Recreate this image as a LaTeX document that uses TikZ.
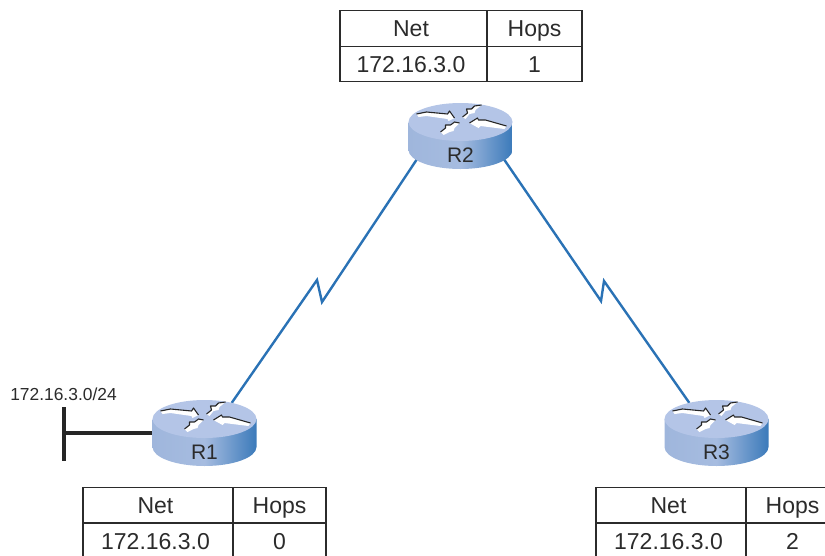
\documentclass[tikz,border=0pt]{standalone}
\usepackage{fontspec}
\setmainfont{Liberation Sans}
\definecolor{inkc}{HTML}{2B2B2B}
\definecolor{linkc}{HTML}{2A72B5}
\definecolor{topc}{HTML}{B4C5E7}
\definecolor{bodyl}{HTML}{9FB6DC}
\definecolor{bodym}{HTML}{A6BCE0}
\definecolor{bodyr}{HTML}{3B7ABA}
\tikzset{
  cell/.style={draw=inkc,line width=1.4pt,inner sep=0pt,text=inkc,font=\fontsize{23}{26}\selectfont,minimum height=35.5pt,text height=16.5pt,text depth=0pt},
  netcell/.style={cell,execute at begin node={\kern-5pt}},
  hopcell/.style={cell},
  routerbox/.style={inner sep=0pt,minimum width=96pt,minimum height=64pt},
  routertext/.style={text=inkc,inner sep=0pt,font=\fontsize{21}{24}\selectfont},
  link/.style={draw=linkc,line width=2.4pt,line join=miter,shorten >=-5pt,shorten <=-10pt},
  stub/.style={draw=black!85,line width=3.2pt},
  arrowfill/.style={fill=white,draw=none},
  arrowedge/.style={draw=black!85,line width=1.1pt,line join=round}
}
\newcommand{\routerdraw}[3]{%
  \begin{scope}[shift={(#1,#2)}]
    \path[left color=bodyl,right color=bodyr,middle color=bodym]
      (-52,0) -- (-52,28) .. controls (-52,38.5) and (-28.7,47) .. (0,47) .. controls (28.7,47) and (52,38.5) .. (52,28) -- (52,0) -- cycle;
    \fill[topc] (0,0) ellipse[x radius=52,y radius=19];
    \fill[arrowfill] (-44,-8)--(-34,-10)--(-13,-8)--(-11,-11)--(-6,-4)--(-12,-1)--(-13,-3)--(-34,-6)--(-42,-5)--cycle;
    \draw[arrowedge] (-44,-8)--(-34,-10)--(-13,-8)--(-11,-11)--(-6,-4);
    \fill[arrowfill] (9,1)--(17,-4)--(18,-2)--(25,-2)--(46,4)--(44,7)--(20,4)--(18,6)--cycle;
    \draw[arrowedge] (9,1)--(17,-4)--(18,-2)--(25,-2)--(46,4);
    \fill[arrowfill] (2,-5)--(7,-9)--(6,-13)--(11,-13)--(14,-16)--(21,-17)--(15,-12)--(14,-9)--(9,-8)--(5,-3)--cycle;
    \draw[arrowedge] (2,-5)--(7,-9)--(6,-13)--(11,-13)--(14,-16)--(21,-17);
    \fill[arrowfill] (-20,10)--(-15,6)--(-15,3)--(-10,3)--(-6,0)--(-1,1)--(-6,6)--(-7,9)--(-11,10)--(-17,13)--cycle;
    \draw[arrowedge] (-20,10)--(-15,6)--(-15,3)--(-10,3)--(-6,0)--(-1,1);
    \node[routertext] (#3lab) at (0,33.5) {#3};
  \end{scope}}
\begin{document}
\begin{tikzpicture}[x=1pt,y=-1pt]
\useasboundingbox (0,0) rectangle (825,555);
\clip (0,0) rectangle (825,555);
% router anchors
\node[routerbox] (R2) at (460.5,134) {};
\node[routerbox] (R1) at (204.5,431) {};
\node[routerbox] (R3) at (716.5,431) {};
% WAN links
\coordinate (k1a) at (317,280);
\coordinate (k1b) at (322,302);
\coordinate (k2a) at (604,281);
\coordinate (k2b) at (601,301);
\draw[link] (R2.south west) -- (k1b) -- (k1a) -- (R1.47);
\draw[link] (R2.south east) -- (k2b) -- (k2a) -- (R3.133);
% LAN stub
\coordinate (stubtop) at (64,407);
\coordinate (stubbot) at (64,461);
\coordinate (stubmid) at (64,433);
\draw[stub] (stubtop) -- (stubbot);
\draw[stub] (stubmid) -- (stubmid -| R1.west);
\node[text=inkc,inner sep=0pt,font=\fontsize{17.4}{19}\selectfont] (lan) at (63.5,394) {172.16.3.0/24};
% routers
\routerdraw{460.5}{122}{R2}
\routerdraw{204.5}{419}{R1}
\routerdraw{716.5}{419}{R3}
% tables
\node[netcell,minimum width=147pt] (t2a) at (413.5,28.5) {Net};
\node[hopcell,minimum width=95pt] (t2b) at (534.5,28.5) {Hops};
\node[netcell,minimum width=147pt] (t2c) at (413.5,64) {172.16.3.0};
\node[hopcell,minimum width=95pt] (t2d) at (534.5,64) {1};
\node[netcell,minimum width=150pt] (t1a) at (158,505) {Net};
\node[hopcell,minimum width=93pt] (t1b) at (279.5,505) {Hops};
\node[netcell,minimum width=150pt] (t1c) at (158,541) {172.16.3.0};
\node[hopcell,minimum width=93pt] (t1d) at (279.5,541) {0};
\node[netcell,minimum width=150pt] (t3a) at (671,505) {Net};
\node[hopcell,minimum width=93pt] (t3b) at (792.5,505) {Hops};
\node[netcell,minimum width=150pt] (t3c) at (671,541) {172.16.3.0};
\node[hopcell,minimum width=93pt] (t3d) at (792.5,541) {2};
\end{tikzpicture}
\end{document}
